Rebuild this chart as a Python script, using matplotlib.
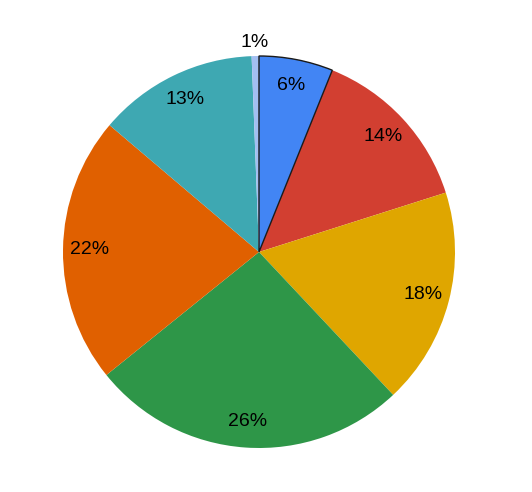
import matplotlib
matplotlib.use('Agg')
import matplotlib.pyplot as plt
import numpy as np

# slices, clockwise from 12 o'clock
labels = ['6%', '14%', '18%', '26%', '22%', '13%', '1%']
values = [6.1, 14.0, 17.9, 26.2, 22.0, 13.2, 0.6]
colors = ['#4285f4', '#d23f31', '#dfa600', '#2e9648', '#e06000', '#3ea8b2', '#a3bff2']

plt.rcParams['font.family'] = ['Liberation Sans', 'DejaVu Sans']

fig = plt.figure(figsize=(5.32, 4.92), dpi=100)
cx, cy, r = 259, 252, 196
ax = fig.add_axes([(cx - r) / 532, (492 - cy - r) / 492, 2 * r / 532, 2 * r / 492])

wedges, texts = ax.pie(values, colors=colors, startangle=90, counterclock=False,
                       radius=1, labels=None, wedgeprops=dict(linewidth=0))
# highlighted slice
wedges[0].set_edgecolor('#1a1a1a')
wedges[0].set_linewidth(1.0)
wedges[0].set_zorder(3)

total = sum(values)
start = 90.0
for lab, v in zip(labels, values):
    ang = start - v / total * 360 / 2
    start -= v / total * 360
    dist = 1.07 if v < 2 else 0.865
    ax.text(dist * np.cos(np.radians(ang)), dist * np.sin(np.radians(ang)), lab,
            ha='center', va='center', fontsize=14, color='black')

ax.set_xlim(-1, 1)
ax.set_ylim(-1, 1)
ax.set_aspect('equal')
ax.axis('off')

fig.savefig('out.png', dpi=100)
